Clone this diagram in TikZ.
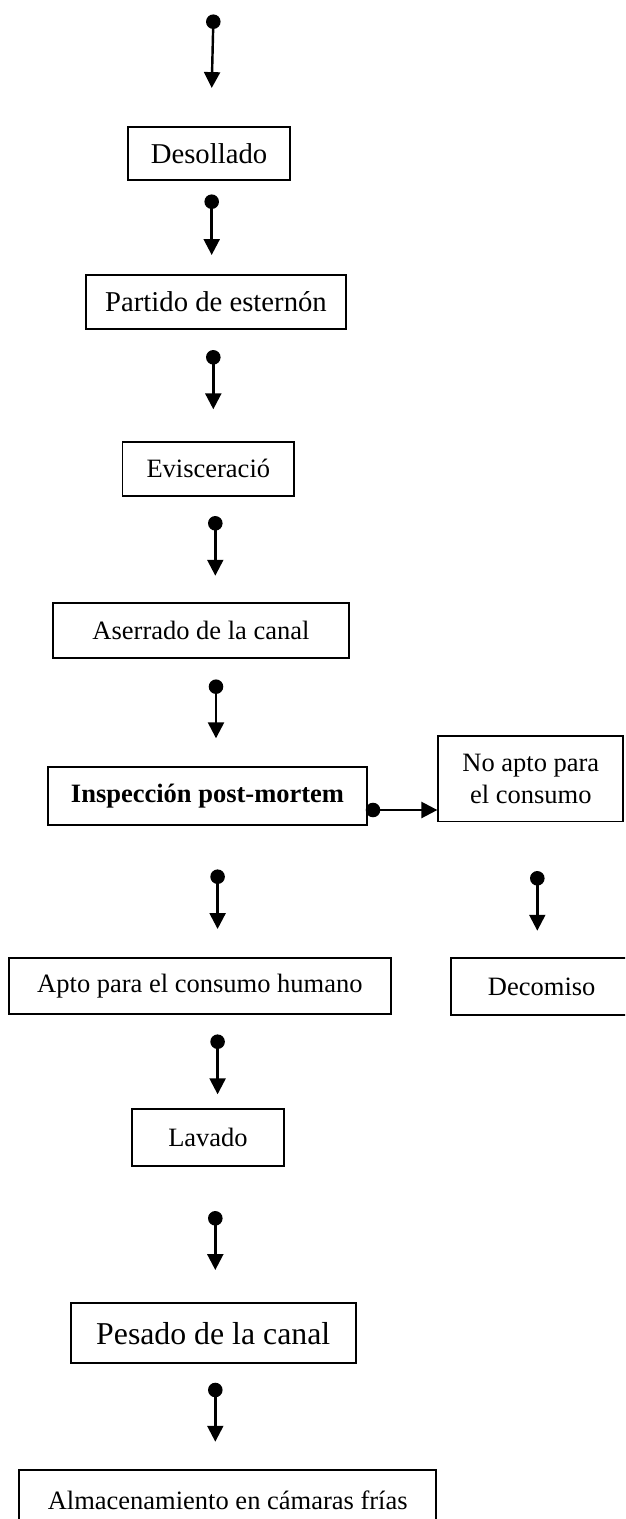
\documentclass[tikz,border=0pt]{standalone}
\usepackage{fontspec}
\setmainfont{Liberation Serif}
\usetikzlibrary{positioning, calc, arrows.meta}

\begin{document}
\begin{tikzpicture}[x=0.4528pt, y=-0.4528pt,
    box/.style={draw, line width=0.8pt, inner sep=0pt, align=center, font=\fontsize{12}{14.5}\selectfont},
    flow/.style={-{Triangle[width=7.2pt, length=7.2pt]}, line width=1.1pt},
    dot/.style={fill=black}]
      \useasboundingbox (0,0) rectangle (625,1519);
      \clip (0,0) rectangle (625,1519);

      % boxes
      \node[box, minimum width=73.4pt, minimum height=24pt, font=\fontsize{13}{15}\selectfont]  (desollado) at (209,153.5)   {Desollado};
      \node[box, minimum width=117.7pt, minimum height=24.5pt, font=\fontsize{13}{15}\selectfont] (partido) at (216,302)   {Partido de esternón};
      \node[box, minimum width=77.6pt, minimum height=24.5pt]  (evisc) at (208.3,468.7)      {Evisceració};
      \node[box, minimum width=134.3pt, minimum height=24.9pt] (aserrado) at (201,630.8)     {Aserrado de la canal};
      \node[box, minimum width=144.4pt, minimum height=26.4pt] (inspec) at (207.5,795.8)     {\textbf{Inspección post-mortem}};
      \node[box, minimum width=83.8pt, minimum height=38.7pt]  (noapto) at (530.8,778.8)     {No apto para\\el consumo};
      \node[box, minimum width=173.1pt, minimum height=25.5pt] (apto) at (199.9,985.9)       {Apto para el consumo humano};
      \node[box, minimum width=82.4pt, minimum height=25.7pt]  (decomiso) at (541.7,986.7)   {Decomiso};
      \node[box, minimum width=69.1pt, minimum height=25.5pt]  (lavado) at (208,1137.5)      {Lavado};
      \node[box, minimum width=129pt, minimum height=27.2pt, font=\fontsize{14.4}{17}\selectfont] (pesado) at (213.2,1333.3) {Pesado de la canal};
      \node[box, minimum width=188.7pt, minimum height=27.2pt] (almacen) at (227.7,1500)     {Almacenamiento en cámaras frías};

      % dots and arrow ends
      \coordinate (d1)  at (213.3,21.7);   \coordinate (t1)  at (211.7,88);
      \coordinate (d2)  at (211.7,201.7);  \coordinate (t2)  at (211.7,255);
      \coordinate (d3)  at (213.3,357.3);  \coordinate (t3)  at (213.3,409.3);
      \coordinate (d4)  at (215.3,523.3);  \coordinate (t4)  at (215.3,575.7);
      \coordinate (d5)  at (216,686.7);    \coordinate (t5)  at (216,738.3);
      \coordinate (d6)  at (217.6,876.7);  \coordinate (t6)  at (217.6,929);
      \coordinate (d7)  at (537.3,878.3);  \coordinate (t7)  at (537.3,930.7);
      \coordinate (d8)  at (217.6,1041.7); \coordinate (t8)  at (217.6,1094.3);
      \coordinate (d9)  at (215.3,1218.3); \coordinate (t9)  at (215.3,1270);
      \coordinate (d10) at (215.3,1390);   \coordinate (t10) at (215.3,1441.7);
      \coordinate (ds)  at (373,810);      %side

      \draw[flow] (d1)  -- (t1);
      \draw[flow] (d2)  -- (t2);
      \draw[flow] (d3)  -- (t3);
      \draw[flow] (d4)  -- (t4);
      \draw[flow] (d5)  -- (t5);
      \draw[flow] (d6)  -- (t6);
      \draw[flow] (d7)  -- (t7);
      \draw[flow] (d8)  -- (t8);
      \draw[flow] (d9)  -- (t9);
      \draw[flow] (d10) -- (t10);
      \draw[flow] (ds)  -- (noapto.west |- ds);   %to no apto

      \fill[dot] (d1) circle (3.3pt);
      \fill[dot] (d2) circle (3.3pt);
      \fill[dot] (d3) circle (3.3pt);
      \fill[dot] (d4) circle (3.3pt);
      \fill[dot] (d5) circle (3.3pt);
      \fill[dot] (d6) circle (3.3pt);
      \fill[dot] (d7) circle (3.3pt);
      \fill[dot] (d8) circle (3.3pt);
      \fill[dot] (d9) circle (3.3pt);
      \fill[dot] (d10) circle (3.3pt);
      \fill[dot] (ds) circle (3.3pt);
\end{tikzpicture}
\end{document}
